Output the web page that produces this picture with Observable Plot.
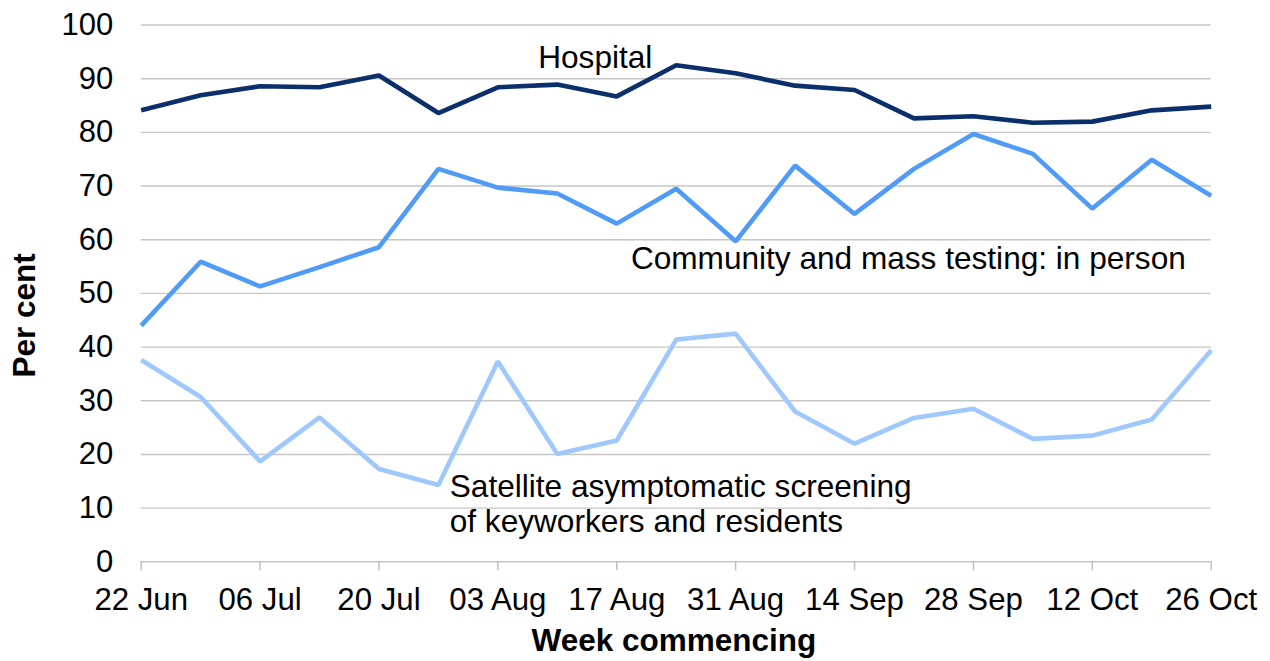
<!DOCTYPE html>
<html><head><meta charset="utf-8">
<script src="https://cdn.jsdelivr.net/npm/d3@7"></script>
<script src="https://cdn.jsdelivr.net/npm/@observablehq/plot@0.6"></script>
<style>body{margin:0;background:#fff;} #chart svg{display:block;}</style>
</head><body><div id="chart"></div>
<script>
// Week commencing dates
const weeks = ["2020-06-22","2020-06-29","2020-07-06","2020-07-13","2020-07-20","2020-07-27","2020-08-03","2020-08-10","2020-08-17","2020-08-24","2020-08-31","2020-09-07","2020-09-14","2020-09-21","2020-09-28","2020-10-05","2020-10-12","2020-10-19","2020-10-26"];
const tickLabels = ["22 Jun","06 Jul","20 Jul","03 Aug","17 Aug","31 Aug","14 Sep","28 Sep","12 Oct","26 Oct"];
const yTicks = [0,10,20,30,40,50,60,70,80,90,100];

// Series values (per cent)
const hospital  = [84.1,86.9,88.6,88.4,90.6,83.6,88.4,88.9,86.7,92.5,91.0,88.7,87.9,82.6,83.0,81.8,82.0,84.1,84.8];
const community = [44.0,55.9,51.3,54.9,58.6,73.2,69.7,68.6,63.0,69.5,59.7,73.8,64.8,73.2,79.7,76.0,65.8,74.9,68.2];
const satellite = [37.6,30.7,18.7,26.9,17.3,14.3,37.3,20.1,22.6,41.4,42.5,28.0,22.0,26.8,28.5,22.9,23.5,26.5,39.4];

const seriesNames = ["Hospital","Community and mass testing: in person","Satellite asymptomatic screening"];
const seriesColors = ["#0a2f6b","#4f9bf7","#9fc8fc"];

// Series label text and anchor (data coordinates)
const labelText = ["Hospital","Community and mass testing: in person","Satellite asymptomatic screening\nof keyworkers and residents"];
const labelWeek = ["2020-08-07T18:00Z","2020-08-18T16:00Z","2020-07-28T08:00Z"];
const labelValue = [91.9,54.6,5.5];

const parse = s => new Date(s.length === 10 ? s + "T00:00Z" : s);
const tickWeeks = weeks.filter((d,i) => i % 2 === 0).map(parse);
const fmtTick = d => tickLabels[tickWeeks.findIndex(t => +t === +d)];

const rows = [];
[hospital, community, satellite].forEach((vals, s) => {
  vals.forEach((v, i) => rows.push({week: parse(weeks[i]), value: v, series: seriesNames[s]}));
});
const labels = labelText.map((t, i) => ({text: t, week: parse(labelWeek[i]), value: labelValue[i]}));

const chart = Plot.plot({
  width: 1270,
  height: 661,
  marginLeft: 140.7,
  marginRight: 59.3,
  marginTop: 24.5,
  marginBottom: 99.7,
  style: {fontFamily: "'Liberation Sans', Arial, sans-serif", fontSize: "31px", color: "#000", background: "#fff"},
  x: {type: "utc", domain: [parse(weeks[0]), parse(weeks[weeks.length - 1])]},
  y: {domain: [0, 100]},
  color: {domain: seriesNames, range: seriesColors},
  marks: [
    Plot.gridY(yTicks, {stroke: "#c6c6c6", strokeOpacity: 1, strokeWidth: 1.4}),
    Plot.axisY(yTicks, {tickSize: 0, tickPadding: 28, label: null, fontSize: 31, fill: "#000"}),
    Plot.axisX(tickWeeks, {tickSize: 9, tickPadding: 17, tickFormat: fmtTick, label: null, fontSize: 31.2, fill: "#000", stroke: "#bdbdbd", strokeWidth: 1.4}),
    Plot.line(rows, {x: "week", y: "value", z: "series", stroke: "series", strokeWidth: 4.6, strokeLinejoin: "miter", strokeLinecap: "butt"}),
    Plot.text(labels, {x: "week", y: "value", text: "text", textAnchor: "start", lineAnchor: "bottom", lineHeight: 1.11, fontSize: 31.6, fill: "#000"}),
    Plot.text(["Per cent"], {frameAnchor: "left", textAnchor: "middle", lineAnchor: "middle", rotate: -90, dx: -116.7, dy: 22, fontSize: 31.5, fontWeight: "bold", fill: "#000"}),
    Plot.text(["Week commencing"], {frameAnchor: "bottom", textAnchor: "middle", lineAnchor: "middle", dx: -2.3, dy: 79.5, fontSize: 31.5, fontWeight: "bold", fill: "#000"})
  ]
});
document.getElementById("chart").appendChild(chart);
</script>
</body></html>
